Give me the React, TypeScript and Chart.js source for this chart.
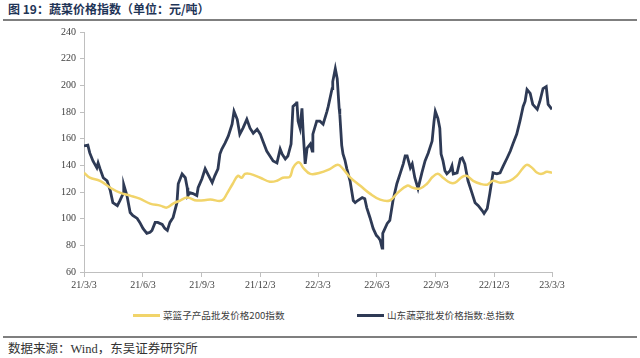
import React, { useEffect, useRef } from "react";
import { Chart, registerables } from "chart.js";

Chart.register(...registerables);

// Days counted from 2021-03-03
const tickDays = [0, 92, 184, 275, 365, 457, 549, 640, 730];
const tickLabels = ["21/3/3", "21/6/3", "21/9/3", "21/12/3", "22/3/3", "22/6/3", "22/9/3", "22/12/3", "23/3/3"];

const seriesNames = ["菜篮子产品批发价格200指数", "山东蔬菜批发价格指数:总指数"];

const basketDays = [
  0, 9, 25, 41, 56, 72, 87, 103, 119, 129,
  139, 150, 161, 176, 197, 215, 223, 232, 240, 246,
  251, 259, 275, 290, 301, 310, 321, 326, 332, 337,
  342, 353, 368, 384, 396, 404, 415, 431, 446, 462,
  477, 488, 504, 513, 524, 535, 544, 552, 560, 571,
  579, 590, 597, 607, 618, 629, 638, 649, 664, 675,
  685, 691, 699, 707, 714, 722, 730,
];
const basketIndex = [
  134.5, 130.7, 128.4, 123.2, 119.5, 117.3, 115, 111.3, 109.8, 108.3,
  111.3, 113.6, 115.8, 113.6, 114.3, 113.6, 118.8, 126.2, 132.1, 130.7,
  133.6, 133.6, 130.7, 127.7, 128.4, 130.7, 131.4, 138.1, 141.8, 141.8,
  138.1, 133.6, 134.4, 137.4, 140.4, 137.4, 131, 124.7, 118.8, 114.3,
  113.6, 118.8, 124.7, 123.2, 122.5, 126.2, 131.4, 133.6, 130.7, 127,
  127, 131.4, 132.1, 128.4, 126.2, 125.5, 128.4, 127, 128.4, 132.1,
  138.1, 140.4, 138.1, 134.4, 133.6, 135.1, 134.4,
];

const shandongDays = [
  0, 6, 9, 14, 20, 22, 25, 30, 36, 41,
  45, 52, 56, 61, 62, 67, 72, 76, 83, 87,
  92, 98, 103, 106, 111, 115, 122, 126, 130, 134,
  139, 145, 147, 153, 158, 161, 162, 165, 170, 176,
  178, 184, 189, 193, 200, 204, 209, 212, 215, 220,
  225, 231, 234, 239, 243, 248, 254, 259, 264, 270,
  275, 279, 285, 290, 295, 301, 306, 309, 314, 318,
  323, 326, 331, 332, 334, 337, 340, 342, 345, 348,
  353, 356, 357, 363, 368, 373, 379, 381, 387, 388,
  392, 395, 398, 399, 402, 404, 407, 410, 415, 420,
  423, 427, 434, 438, 441, 446, 451, 456, 459, 462,
  465, 466, 473, 477, 482, 488, 493, 498, 501, 504,
  509, 512, 516, 521, 527, 532, 537, 543, 546, 548,
  552, 555, 557, 560, 563, 566, 571, 574, 576, 582,
  587, 590, 594, 599, 605, 610, 615, 621, 624, 629,
  633, 638, 644, 649, 654, 660, 665, 669, 675, 680,
  685, 688, 691, 696, 700, 707, 711, 716, 721, 724,
  730,
];
const shandongIndex = [
  154.5, 155.2, 149.3, 143.3, 138.1, 141.8, 137.4, 130.7, 128.4, 121,
  112, 109.8, 113.6, 118.8, 125.5, 117.3, 104.6, 102.4, 100.2, 97.2,
  92.7, 89, 89.8, 91.2, 97.2, 97.2, 95.7, 92.7, 91.2, 97.2,
  100.9, 112, 126.2, 133.6, 130.7, 123.2, 117.3, 119.5, 118.8, 117.3,
  123.2, 129.9, 137.4, 133.6, 127, 132.1, 137.4, 148.5, 152.2, 156.7,
  161.9, 170.8, 180.5, 174.5, 163.4, 167.9, 174.5, 167.9, 164.1, 167.1,
  163.4, 158.2, 150.7, 147, 143.3, 141.8, 152.2, 148.5, 144.8, 147,
  156, 184.2, 186.4, 187.9, 173.1, 167.9, 182.7, 163.4, 141.1, 153,
  156, 150.7, 163.4, 173.1, 173.1, 170.8, 180.5, 184.2, 197.6, 202.8,
  212.5, 205, 182.7, 178.3, 155, 148.5, 144, 137.4, 128.4, 113.6,
  112, 113.6, 115.8, 115, 108.3, 100.9, 92.7, 87.5, 86, 83.8,
  77.9, 89, 96.4, 98.7, 113.6, 126.2, 133.6, 141.1, 147, 147,
  138.1, 141.1, 130.7, 122.5, 134.4, 143.3, 149.3, 158.2, 173.1, 180.5,
  175.3, 167.9, 148.5, 143.3, 135.9, 133.6, 135.9, 139.6, 133.6, 134.4,
  144.8, 145.5, 141.1, 128.4, 119.5, 112, 109.8, 106.1, 103.9, 107.6,
  118.8, 134.4, 133.6, 134.4, 139.6, 145.5, 150.7, 156, 163.4, 173.1,
  184.2, 187.9, 196.9, 193.9, 185.7, 182, 187.9, 197.6, 199.1, 185.7,
  182,
];

const YELLOW = "#F1D46A";
const NAVY = "#2E3A55";
const AXIS = "#BFBFBF";
const LABEL = "#404040";
const SERIF = "'Liberation Serif', 'Times New Roman', serif";
const CJK = "'Noto Sans CJK SC', sans-serif";

export default function App() {
  const canvasRef = useRef<HTMLCanvasElement | null>(null);

  useEffect(() => {
    if (!canvasRef.current) return;
    const chart = new Chart(canvasRef.current, {
      type: "line",
      data: {
        datasets: [
          {
            label: seriesNames[0],
            data: basketDays.map((d, i) => ({ x: d, y: basketIndex[i] })),
            borderColor: YELLOW,
            borderWidth: 2.5,
            pointRadius: 0,
            tension: 0.4,
          },
          {
            label: seriesNames[1],
            data: shandongDays.map((d, i) => ({ x: d, y: shandongIndex[i] })),
            borderColor: NAVY,
            borderWidth: 2.8,
            pointRadius: 0,
            tension: 0,
          },
        ],
      },
      options: {
        animation: false,
        responsive: false,
        maintainAspectRatio: false,
        layout: { padding: { left: 0, right: 88, top: 8, bottom: 0 } },
        plugins: { legend: { display: false }, tooltip: { enabled: false } },
        scales: {
          x: {
            type: "linear",
            min: 0,
            max: 730,
            afterBuildTicks: (scale: any) => {
              scale.ticks = tickDays.map((v) => ({ value: v }));
            },
            afterFit: (scale: any) => {
              scale.height = 30;
            },
            ticks: {
              autoSkip: false,
              maxRotation: 0,
              color: LABEL,
              font: { family: SERIF, size: 10 },
              padding: 2,
              callback: (_v: any, i: number) => tickLabels[i],
            },
            grid: {
              drawOnChartArea: false,
              drawTicks: true,
              tickLength: 5,
              color: AXIS,
            },
            border: { display: true, color: AXIS, width: 1 },
          },
          y: {
            min: 60,
            max: 240,
            afterFit: (scale: any) => {
              scale.width = 84;
            },
            ticks: {
              stepSize: 20,
              color: LABEL,
              font: { family: SERIF, size: 10 },
              padding: 4,
            },
            grid: {
              drawOnChartArea: false,
              drawTicks: true,
              tickLength: 4,
              color: AXIS,
            },
            border: { display: true, color: AXIS, width: 1 },
          },
        },
      },
    });
    return () => chart.destroy();
  }, []);

  const legendItem = (left: number, color: string, text: string) => (
    <div
      style={{
        position: "absolute",
        left,
        top: 309,
        height: 12,
        display: "flex",
        alignItems: "center",
        whiteSpace: "nowrap",
      }}
    >
      <div style={{ width: 27, height: 3, background: color, marginRight: 3 }} />
      <span style={{ fontFamily: CJK, fontSize: 9.6, color: "#404040" }}>{text}</span>
    </div>
  );

  return (
    <div
      style={{
        position: "fixed",
        left: 0,
        top: 0,
        width: 640,
        height: 358,
        background: "#ffffff",
        overflow: "hidden",
      }}
    >
      <div
        style={{
          position: "absolute",
          left: 8,
          top: 0,
          fontFamily: CJK,
          fontWeight: 700,
          fontSize: 12,
          color: "#1F3557",
          lineHeight: "17px",
          whiteSpace: "nowrap",
        }}
      >
        图 19：蔬菜价格指数（单位：元/吨）
      </div>
      <div style={{ position: "absolute", left: 3, right: 3, top: 19, height: 2, background: "#7F7F7F" }} />
      <canvas
        ref={canvasRef}
        width={640}
        height={280}
        style={{ position: "absolute", left: 0, top: 22, width: 640, height: 280 }}
      />
      {legendItem(133, YELLOW, seriesNames[0])}
      {legendItem(357, NAVY, seriesNames[1])}
      <div style={{ position: "absolute", left: 3, right: 3, top: 336, height: 2, background: "#7F7F7F" }} />
      <div
        style={{
          position: "absolute",
          left: 8,
          top: 342,
          fontFamily: "'Liberation Serif', 'Noto Sans CJK SC', serif",
          fontSize: 12.5,
          color: "#333333",
          lineHeight: "15px",
          whiteSpace: "nowrap",
        }}
      >
        数据来源：Wind，东吴证券研究所
      </div>
    </div>
  );
}
